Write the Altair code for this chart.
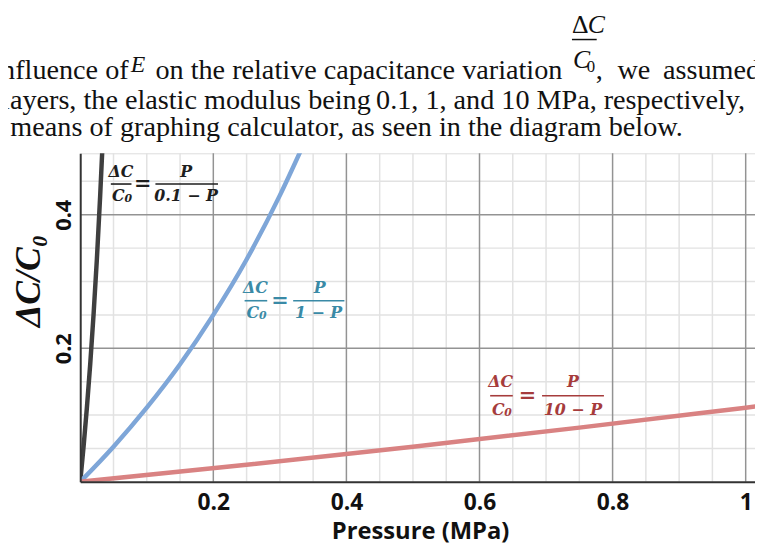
import altair as alt
import pandas as pd

# ---- curves, values ----
p_01 = [0.0, 0.005, 0.01, 0.015, 0.02, 0.025, 0.03, 0.034]
c_01 = [0.0, 0.0526, 0.111, 0.176, 0.25, 0.333, 0.429, 0.515]
p_1 = [0.0, 0.05, 0.1, 0.15, 0.2, 0.25, 0.3, 0.34]
c_1 = [0.0, 0.0526, 0.111, 0.176, 0.25, 0.333, 0.429, 0.515]
p_10 = [0.0, 0.25, 0.5, 0.75, 1.0, 1.05]
c_10 = [0.0, 0.0256, 0.0526, 0.0811, 0.111, 0.117]

series_names = ["E=0.1", "E=1", "E=10"]
series_colors = ["#3f3f3f", "#7ea6d8", "#d98282"]

# ---- grid and ticks ----
x_minor = [0.05, 0.1, 0.15, 0.25, 0.3, 0.35, 0.45, 0.5, 0.55, 0.65, 0.7, 0.75, 0.85, 0.9, 0.95]
x_major = [0.2, 0.4, 0.6, 0.8, 1.0]
y_minor = [0.05, 0.1, 0.15, 0.25, 0.3, 0.35, 0.45]
y_major = [0.2, 0.4]
x_ticks = [0.2, 0.4, 0.6, 0.8, 1.0]
y_ticks = [0.2, 0.4]

# ---- equation labels (data units) ----
eq_text = ["ΔC", "C", "0", "=", "P", "0.1 − P",
           "ΔC", "C", "0", "=", "P", "1 − P",
           "ΔC", "C", "0", "=", "P", "10 − P"]
eq_x = [0.0610, 0.0572, 0.0721, 0.0937, 0.1591, 0.1591,
        0.2632, 0.2594, 0.2743, 0.3003, 0.3598, 0.3583,
        0.6319, 0.6282, 0.6430, 0.6720, 0.7404, 0.7404]
eq_y = [0.4638, 0.4283, 0.4238, 0.4460, 0.4638, 0.4283,
        0.2905, 0.2534, 0.2490, 0.2712, 0.2905, 0.2534,
        0.1497, 0.1082, 0.1037, 0.1289, 0.1497, 0.1082]
eq_size = [16, 16, 11, 21, 16, 16] * 3
label_colors = ["#1e1e1e", "#3a8aa6", "#a63c3c"]
eq_color = [label_colors[0]] * 6 + [label_colors[1]] * 6 + [label_colors[2]] * 6
bar_x = [0.046, 0.113, 0.247, 0.320, 0.616, 0.694]
bar_x2 = [0.077, 0.207, 0.281, 0.397, 0.650, 0.787]
bar_y = [0.446, 0.446, 0.2712, 0.2712, 0.1289, 0.1289]
bar_color = [label_colors[0]] * 2 + [label_colors[1]] * 2 + [label_colors[2]] * 2

X_DOM = [0, 1.014]
Y_DOM = [0, 0.492]

curves = pd.DataFrame({
    "P": p_01 + p_1 + p_10,
    "C": c_01 + c_1 + c_10,
    "s": ["E=0.1"] * len(p_01) + ["E=1"] * len(p_1) + ["E=10"] * len(p_10),
})

xs = alt.Scale(domain=X_DOM, nice=False, zero=False)
ys = alt.Scale(domain=Y_DOM, nice=False, zero=False)

AX = alt.Axis(
    values=x_ticks, format=".1~f", title=None, ticks=False, tickSize=0, grid=False,
    domainColor="#333333", domainWidth=2, labelFont="Open Sans", labelFontWeight="bold",
    labelFontSize=23, labelColor="#111111", labelPadding=10, zindex=1)
AY = alt.Axis(
    values=y_ticks, format=".1f", title=None, ticks=False, tickSize=0, grid=False,
    domainColor="#333333", domainWidth=2, labelFont="Open Sans", labelFontWeight="bold",
    labelFontSize=22, labelColor="#111111", labelAngle=270, labelAlign="center",
    labelBaseline="bottom", labelPadding=5, zindex=1)

minor_col = "#e2e2e2"
major_col = "#939393"

gx_minor = alt.Chart(pd.DataFrame({"v": x_minor})).mark_rule(color=minor_col, strokeWidth=1.5).encode(
    x=alt.X("v:Q", scale=xs, axis=AX))
gx_major = alt.Chart(pd.DataFrame({"v": x_major})).mark_rule(color=major_col, strokeWidth=1.5).encode(
    x=alt.X("v:Q", scale=xs, axis=AX))
gy_minor = alt.Chart(pd.DataFrame({"v": y_minor})).mark_rule(color=minor_col, strokeWidth=1.5).encode(
    y=alt.Y("v:Q", scale=ys, axis=AY))
gy_major = alt.Chart(pd.DataFrame({"v": y_major})).mark_rule(color=major_col, strokeWidth=1.5).encode(
    y=alt.Y("v:Q", scale=ys, axis=AY))

color_scale = alt.Scale(domain=series_names, range=series_colors)

lines = alt.Chart(curves).mark_line(clip=True, interpolate="monotone", strokeWidth=4.5).encode(
    x=alt.X("P:Q", scale=xs, axis=AX),
    y=alt.Y("C:Q", scale=ys, axis=AY),
    color=alt.Color("s:N", scale=color_scale, legend=None),
    detail="s:N",
)

eq_df = pd.DataFrame({"t": eq_text, "x": eq_x, "y": eq_y, "fs": eq_size, "c": eq_color})
eq_marks = alt.Chart(eq_df).mark_text(
    font="DejaVu Serif", fontWeight="bold", fontStyle="italic",
    align="center", baseline="middle").encode(
    x=alt.X("x:Q", scale=xs, axis=AX), y=alt.Y("y:Q", scale=ys, axis=AY),
    text="t:N", size=alt.Size("fs:Q", scale=None, legend=None),
    color=alt.Color("c:N", scale=None))

bar_df = pd.DataFrame({"x": bar_x, "x2": bar_x2, "y": bar_y, "c": bar_color})
bar_marks = alt.Chart(bar_df).mark_rule(strokeWidth=1.6).encode(
    x=alt.X("x:Q", scale=xs, axis=AX), x2="x2:Q", y=alt.Y("y:Q", scale=ys, axis=AY),
    color=alt.Color("c:N", scale=None))

one = pd.DataFrame({"k": [0]})


def txt(s, x, y, size, font="Liberation Serif", style="normal", weight="normal",
        align="left", baseline="alphabetic", angle=0, color="#111111"):
    return alt.Chart(one).mark_text(
        text=s, font=font, fontSize=size, fontStyle=style, fontWeight=weight,
        align=align, baseline=baseline, angle=angle, color=color).encode(
        x=alt.value(x), y=alt.value(y))


FS = 28.5
# paragraph above the chart (pixel offsets from the plot's top-left corner)
para = [
    txt("nfluence of", -80, -75, FS),
    txt("E", 51, -82, 24, style="italic"),
    txt("on the relative capacitance variation", 76, -75, FS),
    txt("Δ", 497, -122, 26),
    txt("C", 513, -122, 26, style="italic"),
    txt("C", 498, -86, 26, style="italic"),
    txt("0", 512, -82, 17),
    txt(",", 521, -75, FS),
    txt("we", 543, -75, FS),
    txt("assumed", 589, -75, FS),
    txt("layers, the elastic modulus being", -79, -45, FS),
    txt("0.1, 1, and 10 MPa,", 299, -45, FS),
    txt("respectively,", 672, -45, FS, align="right"),
    txt("y means of graphing calculator, as seen in the diagram below.", -92, -17, FS),
]
frac_bar = alt.Chart(one).mark_rule(color="#111111", strokeWidth=1.5).encode(
    x=alt.value(497), x2=alt.value(522), y=alt.value(-115))

y_title = txt("ΔC/C₀", -52, 129, 36, style="italic", weight="bold", align="center",
              baseline="middle", angle=270)
x_title = txt("Pressure (MPa)", 344, 390, 24, font="Open Sans", weight="bold", align="center")

chart = alt.layer(
    gx_minor, gy_minor, gx_major, gy_major, lines, bar_marks, eq_marks,
    *para, frac_bar, y_title, x_title,
).properties(
    width=682, height=332,
    autosize=alt.AutoSizeParams(type="none"),
    padding={"left": 73, "top": 144, "right": 0, "bottom": 60},
).configure_view(stroke=None).configure(background="white")

chart.save("out.html", embed_options={"renderer": "svg", "actions": False})
